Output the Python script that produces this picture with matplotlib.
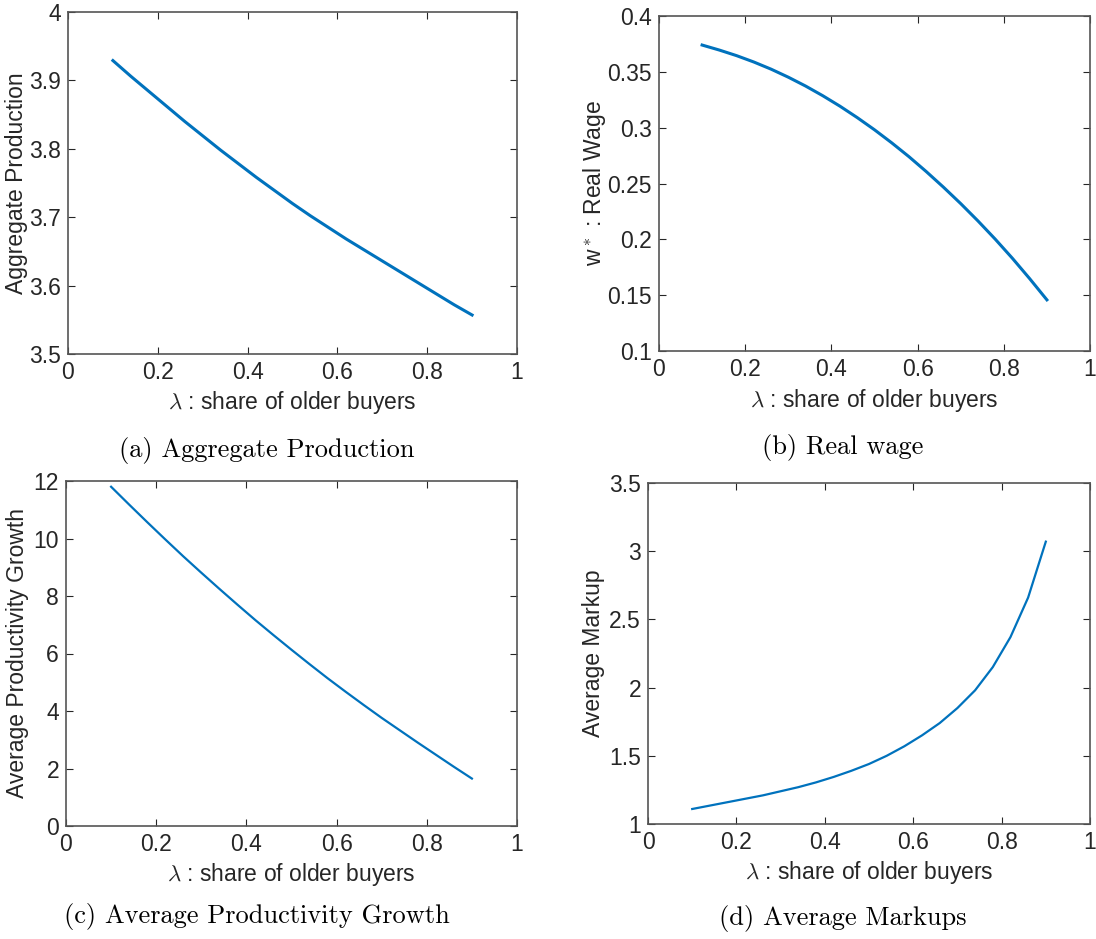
import numpy as np
import matplotlib
matplotlib.use('Agg')
import matplotlib.pyplot as plt
from matplotlib.ticker import FuncFormatter

# share of older buyers (grid used in all four panels)
lam = [0.10, 0.14, 0.18, 0.22, 0.26, 0.30, 0.34, 0.38, 0.42, 0.46, 0.50,
       0.54, 0.58, 0.62, 0.66, 0.70, 0.74, 0.78, 0.82, 0.86, 0.90]

agg_prod = [3.929, 3.906, 3.884, 3.862, 3.840, 3.819, 3.798, 3.778, 3.758, 3.739, 3.720,
            3.702, 3.685, 3.668, 3.652, 3.636, 3.620, 3.604, 3.588, 3.572, 3.557]

real_wage = [0.3740, 0.3695, 0.3645, 0.3588, 0.3524, 0.3452, 0.3373, 0.3286, 0.3192, 0.3090, 0.2981,
             0.2864, 0.2740, 0.2607, 0.2467, 0.2320, 0.2165, 0.2002, 0.1830, 0.1648, 0.1458]

prod_growth = [11.80, 11.18, 10.57, 9.97, 9.38, 8.81, 8.25, 7.70, 7.16, 6.64, 6.13,
               5.63, 5.14, 4.67, 4.21, 3.76, 3.33, 2.90, 2.48, 2.06, 1.65]

markup = [1.11, 1.135, 1.16, 1.185, 1.21, 1.24, 1.27, 1.305, 1.345, 1.39, 1.44,
          1.50, 1.57, 1.65, 1.74, 1.85, 1.98, 2.15, 2.37, 2.66, 3.07]

xticks = [0, 0.2, 0.4, 0.6, 0.8, 1]
yticks_a = [3.5, 3.6, 3.7, 3.8, 3.9, 4]
yticks_b = [0.1, 0.15, 0.2, 0.25, 0.3, 0.35, 0.4]
yticks_c = [0, 2, 4, 6, 8, 10, 12]
yticks_d = [1, 1.5, 2, 2.5, 3, 3.5]

ylabels = ['Aggregate Production', r'w$^*$ : Real Wage',
           'Average Productivity Growth', 'Average Markup']
captions = ['(a) Aggregate Production', '(b) Real wage',
            '(c) Average Productivity Growth', '(d) Average Markups']

plt.rcParams['font.family'] = ['Liberation Sans', 'DejaVu Sans']
plt.rcParams['mathtext.fontset'] = 'cm'

W, H = 1096, 939
fig = plt.figure(figsize=(W / 100, H / 100), dpi=100)

# axes boxes in pixels: left, right, top, bottom
boxes = [(68, 517, 12, 354), (659, 1090, 16, 351),
         (66, 517, 481, 826), (648, 1090, 483, 824)]
series = [agg_prod, real_wage, prod_growth, markup]
yticks = [yticks_a, yticks_b, yticks_c, yticks_d]
lws = [2.2, 2.2, 1.6, 1.6]
cap_pos = [(267, 450), (843, 447), (257, 916), (843, 918)]
ylab_x = [19, 599, 20, 596]   # centre of the rotated y label, pixels

fmt = FuncFormatter(lambda v, p: '%g' % v)
gray = '#262626'

for i in range(4):
    l, r, t, b = boxes[i]
    ax = fig.add_axes([l / W, 1 - b / H, (r - l) / W, (b - t) / H])
    ax.plot(lam, series[i], color='#0072BD', lw=lws[i])
    ax.set_xlim(0, 1)
    ax.set_ylim(yticks[i][0], yticks[i][-1])
    ax.set_xticks(xticks)
    ax.set_yticks(yticks[i])
    ax.xaxis.set_major_formatter(fmt)
    ax.yaxis.set_major_formatter(fmt)
    ax.tick_params(direction='in', top=True, right=True, length=5, width=0.8,
                   labelsize=16.5, colors=gray, labelcolor=gray, pad=5)
    for s in ax.spines.values():
        s.set_color('#555555')
        s.set_linewidth(1.2)
    ax.set_xlabel(r'$\lambda$ : share of older buyers', fontsize=16.5, color=gray, labelpad=4)
    ax.set_ylabel(ylabels[i], fontsize=16.5, color=gray)
    ax.yaxis.set_label_coords((ylab_x[i] + 9 - l) / (r - l), 0.5)
    cx, cy = cap_pos[i]
    fig.text(cx / W, 1 - cy / H, captions[i], ha='center', va='center',
             fontsize=19, family='cmr10')

fig.savefig('out.png', dpi=100)
